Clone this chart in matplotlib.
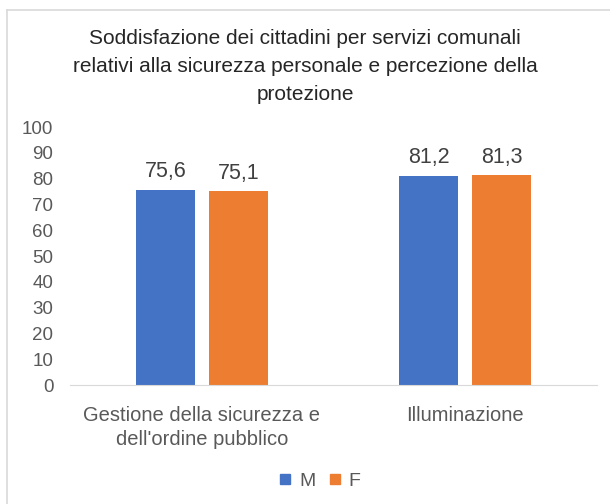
import matplotlib.pyplot as plt
import numpy as np
from matplotlib.lines import Line2D

plt.rcParams['font.family'] = ['Liberation Sans', 'DejaVu Sans']

categories = ["Gestione della sicurezza e\ndell'ordine pubblico", "Illuminazione"]
series_names = ["M", "F"]
values_m = [75.6, 81.2]
values_f = [75.1, 81.3]
colors = ["#4472C4", "#ED7D31"]
title = ("Soddisfazione dei cittadini per servizi comunali\n"
         "relativi alla sicurezza personale e percezione della\n"
         "protezione")

fig = plt.figure(figsize=(6.1, 5.04), dpi=100)
ax = fig.add_axes([0.1148, 0.236, 0.8639, 0.512])

x = np.arange(len(categories))
w = 0.224
gap = 0.053
b1 = ax.bar(x - (w + gap) / 2, values_m, w, color=colors[0], label=series_names[0])
b2 = ax.bar(x + (w + gap) / 2, values_f, w, color=colors[1], label=series_names[1])

for bars in (b1, b2):
    for r in bars:
        ax.text(r.get_x() + r.get_width() / 2, r.get_height() + 3.0,
                f"{r.get_height():.1f}".replace(".", ","),
                ha="center", va="bottom", fontsize=15.5, color="#404040")

ax.set_xlim(-0.5, len(categories) - 0.5)
ax.set_ylim(0, 100)
ax.set_yticks(range(0, 101, 10))
ax.set_xticks(x)
ax.set_xticklabels(categories, fontsize=14.5, color="#595959", linespacing=1.35)
ax.tick_params(axis="y", labelsize=13.5, labelcolor="#595959", length=0, pad=12)
ax.tick_params(axis="x", length=0, pad=15)
for s in ["top", "right", "left"]:
    ax.spines[s].set_visible(False)
ax.spines["bottom"].set_color("#D9D9D9")

fig.text(0.5, 0.942, title, ha="center", va="top", fontsize=15,
         color="#262626", linespacing=1.58)

handles = [Line2D([], [], marker="s", linestyle="", markersize=6.5,
                  color=c) for c in colors]
fig.legend(handles, series_names, loc="center", bbox_to_anchor=(0.518, 0.045),
           ncol=2, frameon=False, fontsize=14, handletextpad=0.0,
           columnspacing=0.3, handlelength=1.4, labelcolor="#595959")

fig.add_artist(Line2D([7 / 610, 7 / 610], [0, 1 - 10 / 504], color="#D9D9D9", lw=1.2))
fig.add_artist(Line2D([7 / 610, 1], [1 - 10 / 504, 1 - 10 / 504], color="#D9D9D9", lw=1.2))

fig.savefig("out.png", dpi=100)
